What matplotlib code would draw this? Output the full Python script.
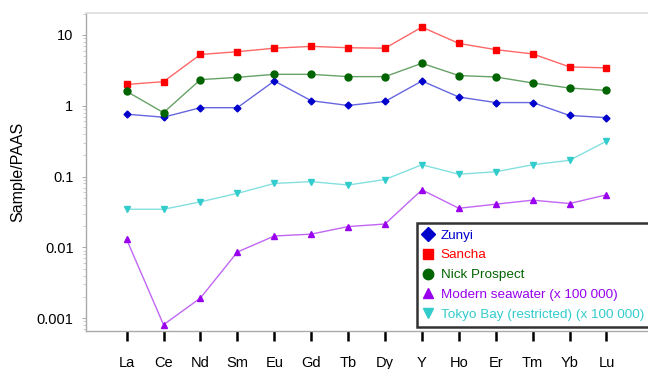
import matplotlib
matplotlib.use("Agg")
import matplotlib.pyplot as plt
import numpy as np

plt.rcParams['font.family'] = ['Liberation Sans', 'DejaVu Sans']

elements = ["La", "Ce", "Nd", "Sm", "Eu", "Gd", "Tb", "Dy", "Y", "Ho", "Er", "Tm", "Yb", "Lu"]
zunyi = [0.76, 0.69, 0.94, 0.94, 2.24, 1.18, 1.01, 1.15, 2.24, 1.33, 1.11, 1.11, 0.73, 0.68]
sancha = [2.0, 2.19, 5.3, 5.8, 6.5, 6.9, 6.6, 6.5, 12.9, 7.6, 6.2, 5.4, 3.54, 3.43]
nick = [1.6, 0.80, 2.34, 2.52, 2.78, 2.78, 2.58, 2.58, 3.98, 2.67, 2.55, 2.1, 1.78, 1.65]
seawater = [0.013, 0.00081, 0.00193, 0.0086, 0.0145, 0.0154, 0.0197, 0.0214, 0.065, 0.0357, 0.0408, 0.0465, 0.0417, 0.0553]
tokyo = [0.0346, 0.0346, 0.044, 0.058, 0.080, 0.085, 0.076, 0.091, 0.147, 0.108, 0.117, 0.147, 0.17, 0.317]

series = [
    ("Zunyi", zunyi, "#0000CC", "D", 3.5),
    ("Sancha", sancha, "#FF0000", "s", 5.0),
    ("Nick Prospect", nick, "#006400", "o", 5.0),
    ("Modern seawater (x 100 000)", seawater, "#9900EE", "^", 4.5),
    ("Tokyo Bay (restricted) (x 100 000)", tokyo, "#33CCCC", "v", 4.5),
]
legend_sizes = [7, 7.5, 7.5, 7, 7]

fig = plt.figure(figsize=(6.48, 3.69), dpi=100)
ax = fig.add_axes([86/648, 1 - 331/369, 1 - 86/648 + 0.01, (331 - 13)/369])

x = np.arange(len(elements))
handles = []
for (name, vals, col, mk, ms), lms in zip(series, legend_sizes):
    ax.plot(x, vals, color=col, lw=1.0, alpha=0.6, zorder=2)
    ax.plot(x, vals, linestyle='none', marker=mk, markersize=ms, color=col, zorder=3)
    h, = ax.plot([], [], linestyle='none', marker=mk, markersize=lms, color=col, label=name)
    handles.append(h)

ax.set_yscale('log')
ax.set_ylim(10**-3.18, 10**1.31)
ax.set_xlim(-1.1, 14.3)
ax.set_xticks(x)
ax.set_xticklabels(elements, fontsize=10.5)
ax.set_yticks([0.001, 0.01, 0.1, 1, 10])
ax.set_yticklabels(["0.001", "0.01", "0.1", "1", "10"], fontsize=10.5)
ax.tick_params(axis='x', length=7, width=1.8, color='black', pad=11)
ax.tick_params(axis='y', which='major', length=3, width=0.6, color='#999999', pad=6)
ax.tick_params(axis='y', which='minor', length=2, width=0.5, color='#BBBBBB')
ax.set_ylabel("Sample/PAAS", fontsize=11.5, labelpad=8)

for s in ['left', 'bottom']:
    ax.spines[s].set_color('#AAAAAA')
    ax.spines[s].set_linewidth(1.0)
ax.spines['top'].set_color('#DDDDDD')
ax.spines['top'].set_linewidth(1.2)
ax.spines['right'].set_visible(False)

leg = ax.legend(handles=handles, loc='lower left', bbox_to_anchor=(417/648, 42/369),
                bbox_transform=fig.transFigure, borderaxespad=0, fontsize=9.7,
                frameon=True, fancybox=False, handlelength=0.8, handletextpad=0.5,
                labelspacing=0.55, borderpad=0.45)
leg.get_frame().set_edgecolor('black')
leg.get_frame().set_linewidth(1.8)
for t, (_, _, col, _, _) in zip(leg.get_texts(), series):
    t.set_color(col)

fig.savefig("out.png", dpi=100)
